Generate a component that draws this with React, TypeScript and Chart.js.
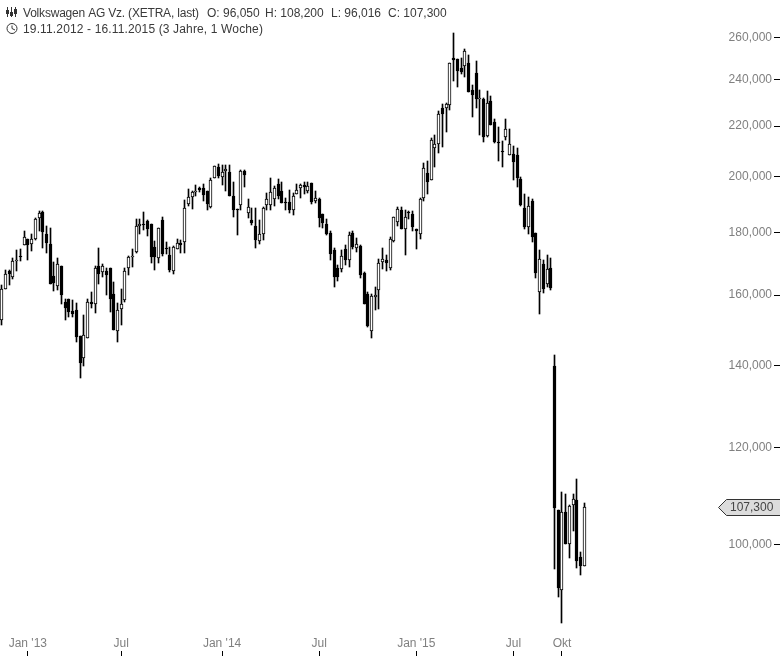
import React, { useEffect, useRef } from "react";
import { Chart, registerables } from "chart.js";

Chart.register(...registerables);

const opens = [
  152.6, 162.0, 167.4, 165.7, 170.8, 172.2, 176.0, 177.7, 176.3, 177.9,
  185.2, 187.1, 179.4, 176.2, 165.9, 162.9, 169.1, 157.8, 158.7, 155.3,
  155.7, 148.1, 142.2, 147.6, 157.8, 157.2, 169.0, 167.0, 167.5, 168.5,
  160.2, 149.6, 156.0, 158.5, 168.4, 172.1, 173.4, 182.3, 183.1, 184.0,
  182.9, 175.1, 171.5, 184.2, 174.8, 172.6, 167.3, 174.5, 176.4, 176.9,
  189.8, 192.4, 194.6, 195.9, 195.9, 194.7, 189.0, 199.4, 203.8, 200.0,
  202.2, 201.9, 192.8, 188.1, 189.6, 202.1, 186.7, 184.2, 182.1, 177.3,
  179.6, 189.5, 189.5, 191.7, 197.2, 194.6, 190.8, 190.8, 188.0, 193.7,
  195.9, 196.9, 194.8, 197.6, 191.2, 191.7, 186.5, 183.1, 180.0, 174.2,
  168.5, 168.0, 174.4, 170.9, 180.0, 174.7, 175.5, 166.9, 160.4, 149.6,
  159.4, 161.7, 170.2, 171.0, 168.3, 177.3, 183.8, 187.8, 181.3, 187.2,
  186.3, 181.1, 179.6, 192.1, 201.5, 198.9, 211.0, 212.6, 227.5, 227.5,
  228.8, 250.0, 249.5, 245.4, 246.5, 247.6, 235.7, 243.4, 232.0, 231.4,
  216.0, 230.5, 221.8, 213.4, 209.9, 215.4, 208.2, 208.6, 208.2, 199.2,
  188.6, 182.0, 191.0, 179.9, 160.9, 169.7, 163.5, 168.4, 139.9, 106.8,
  91.75, 106.4, 100.1, 107.8, 108.8, 97.7, 96.05,
];
const highs = [
  163.1, 167.9, 167.9, 171.7, 174.3, 174.6, 180.4, 177.7, 179.4, 184.9,
  187.5, 187.4, 182.2, 181.7, 170.4, 171.7, 169.1, 158.9, 158.9, 158.5,
  157.5, 148.1, 154.0, 158.7, 160.8, 169.1, 174.9, 169.7, 168.5, 168.5,
  164.0, 157.5, 161.8, 168.5, 172.3, 174.6, 184.6, 184.7, 187.2, 184.3,
  182.9, 177.2, 181.7, 185.3, 176.7, 175.1, 175.4, 177.8, 177.5, 191.4,
  195.3, 194.8, 196.9, 196.3, 197.2, 194.7, 199.4, 203.9, 204.8, 204.3,
  204.4, 204.4, 197.9, 188.1, 202.5, 202.7, 191.7, 188.6, 188.5, 184.4,
  189.0, 194.1, 199.7, 196.5, 199.3, 197.9, 192.3, 195.1, 194.0, 197.2,
  197.2, 198.0, 197.9, 197.6, 194.6, 192.1, 186.5, 184.6, 180.4, 174.7,
  169.5, 174.1, 175.9, 180.2, 180.4, 178.3, 175.7, 167.2, 160.8, 160.4,
  162.6, 171.4, 174.8, 172.7, 178.6, 185.3, 189.0, 189.0, 187.8, 187.5,
  187.5, 181.1, 192.1, 205.1, 206.0, 215.0, 216.3, 226.3, 229.5, 229.8,
  247.6, 262.2, 249.5, 250.3, 254.4, 251.5, 237.6, 248.7, 235.4, 231.8,
  235.0, 232.8, 222.8, 219.7, 213.9, 222.8, 218.7, 211.9, 211.0, 200.0,
  193.6, 192.6, 191.7, 179.9, 174.2, 171.0, 172.7, 171.7, 143.0, 106.8,
  110.5, 109.9, 107.8, 110.0, 113.2, 98.5, 108.2,
];
const lows = [
  151.2, 162.0, 163.2, 165.0, 167.4, 170.5, 175.7, 170.9, 173.9, 177.5,
  180.7, 175.0, 173.2, 163.5, 161.1, 161.5, 157.3, 152.8, 153.5, 153.5,
  146.4, 136.8, 140.0, 147.6, 156.3, 154.8, 163.4, 165.6, 160.0, 155.1,
  149.8, 146.4, 151.2, 157.8, 166.1, 168.6, 173.1, 179.5, 181.0, 178.9,
  169.9, 167.7, 170.1, 172.1, 172.8, 167.0, 166.6, 174.4, 173.2, 173.2,
  189.3, 188.1, 192.7, 194.5, 190.9, 188.0, 188.7, 199.4, 199.4, 196.9,
  194.7, 193.0, 185.5, 179.2, 188.0, 196.3, 185.0, 182.7, 175.0, 176.3,
  177.6, 187.7, 187.7, 189.1, 191.7, 190.5, 187.7, 186.7, 186.2, 193.7,
  192.0, 193.7, 194.1, 190.1, 190.5, 182.0, 181.7, 179.2, 170.9, 162.5,
  164.4, 167.0, 169.3, 168.6, 174.4, 173.7, 165.2, 157.4, 150.7, 147.6,
  155.6, 156.0, 168.2, 167.3, 167.7, 176.9, 182.2, 181.2, 172.5, 184.7,
  180.5, 174.4, 177.9, 190.9, 193.7, 198.6, 203.8, 209.2, 211.7, 217.6,
  226.9, 239.5, 236.7, 242.9, 241.3, 234.7, 223.9, 227.8, 216.4, 213.6,
  215.6, 220.4, 213.3, 206.0, 203.8, 214.4, 208.2, 198.8, 196.1, 189.1,
  181.2, 179.5, 176.9, 165.1, 154.3, 160.5, 162.5, 161.6, 95.45, 90.5,
  86.2, 100.0, 97.4, 102.5, 95.6, 94.4, 96.016,
];
const closes = [
  162.0, 166.5, 166.4, 170.6, 171.0, 171.8, 178.6, 176.0, 177.7, 184.7,
  186.7, 180.1, 176.6, 163.5, 163.8, 169.7, 160.0, 156.3, 154.9, 154.3,
  147.9, 140.8, 148.3, 157.8, 157.4, 168.5, 166.4, 169.1, 166.1, 158.9,
  149.8, 155.6, 157.2, 167.5, 172.0, 172.4, 182.4, 183.0, 182.6, 181.2,
  172.0, 171.9, 181.7, 173.0, 174.4, 167.9, 175.1, 176.4, 175.9, 188.5,
  192.4, 194.5, 194.8, 195.1, 193.4, 189.8, 198.9, 203.9, 200.2, 201.9,
  203.1, 193.0, 188.0, 187.7, 202.1, 200.6, 188.9, 183.4, 177.6, 179.6,
  188.6, 191.7, 194.2, 195.8, 193.0, 190.5, 190.2, 188.0, 192.8, 194.9,
  196.9, 196.3, 196.7, 190.8, 192.1, 185.2, 183.4, 179.5, 172.8, 165.4,
  165.4, 172.2, 170.9, 179.3, 175.3, 176.1, 166.1, 157.4, 151.0, 159.8,
  160.1, 170.0, 171.3, 169.9, 177.7, 185.3, 188.1, 181.2, 185.3, 186.7,
  181.9, 180.5, 191.9, 203.5, 198.0, 214.2, 212.6, 224.9, 225.3, 229.5,
  247.6, 249.3, 244.2, 243.8, 253.3, 234.7, 233.1, 231.4, 232.2, 215.6,
  229.7, 220.4, 213.5, 213.3, 209.7, 218.9, 212.6, 205.7, 199.5, 189.7,
  181.9, 189.2, 178.5, 166.8, 171.3, 161.9, 168.1, 162.2, 107.1, 92.1,
  106.4, 100.1, 107.6, 109.0, 96.98, 96.0, 107.3,
];

const xTickWeeks = [7, 32, 59, 85, 111, 137, 150];
const xTickLabels = ["Jan '13", "Jul", "Jan '14", "Jul", "Jan '15", "Jul", "Okt"];
const yTickValues = [100, 120, 140, 160, 180, 200, 220, 240, 260];

const headerName = "Volkswagen AG Vz. (XETRA, last)";
const headerOhlc = ["O: 96,050", "H: 108,200", "L: 96,016", "C: 107,300"];
const headerRange = "19.11.2012 - 16.11.2015 (3 Jahre, 1 Woche)";
const lastPrice = "107,300";

const FONT = "'Liberation Sans', Arial, sans-serif";
const fmt = (v: number) => v.toFixed(3).replace(".", ",");

const snapBars = {
  id: "snapBars",
  afterDatasetsUpdate(chart: any) {
    chart.getSortedVisibleDatasetMetas().forEach((meta: any) => {
      meta.data.forEach((el: any) => {
        el.x = Math.floor(el.x) + 0.5;
        let top = Math.round(Math.min(el.y, el.base));
        let bot = Math.round(Math.max(el.y, el.base));
        if (bot === top) bot = top + 1;
        el.y = top;
        el.base = bot;
        el.height = bot - top;
      });
    });
  },
};

const decorations = {
  id: "decorations",
  afterDraw(chart: any) {
    const ctx = chart.ctx;
    ctx.save();
    // header text
    ctx.font = `12px ${FONT}`;
    ctx.textBaseline = "alphabetic";
    ctx.textAlign = "left";
    ctx.fillStyle = "#3a3a3a";
    ctx.letterSpacing = "-0.2px";
    ctx.fillText(headerName, 23, 17);
    ctx.letterSpacing = "0px";
    [207, 265, 331, 388].forEach((x, i) => ctx.fillText(headerOhlc[i], x, 17));
    ctx.letterSpacing = "0.14px";
    ctx.fillText(headerRange, 23, 33);
    ctx.letterSpacing = "0px";

    // header icons
    ctx.strokeStyle = "#333";
    ctx.lineWidth = 1;
    ctx.beginPath();
    [7.5, 11.5, 15.5].forEach((x) => {
      ctx.moveTo(x, 7);
      ctx.lineTo(x, 17);
    });
    ctx.stroke();
    ctx.fillStyle = "#333";
    ctx.fillRect(6, 10, 3, 4);
    ctx.fillRect(10, 12, 3, 4);
    ctx.fillRect(14, 9, 3, 5);
    ctx.beginPath();
    ctx.arc(12, 28.5, 5, 0, Math.PI * 2);
    ctx.moveTo(12, 25.5);
    ctx.lineTo(12, 28.5);
    ctx.lineTo(15, 30);
    ctx.stroke();

    // last price tag
    const y = Math.round(chart.scales.y.getPixelForValue(closes[closes.length - 1])) + 0.5;
    ctx.beginPath();
    ctx.moveTo(718.5, y);
    ctx.lineTo(726.5, y - 8);
    ctx.lineTo(781, y - 8);
    ctx.lineTo(781, y + 8);
    ctx.lineTo(726.5, y + 8);
    ctx.closePath();
    ctx.fillStyle = "#dcdcdc";
    ctx.fill();
    ctx.strokeStyle = "#333";
    ctx.stroke();
    ctx.fillStyle = "#444";
    ctx.textBaseline = "middle";
    ctx.textAlign = "left";
    ctx.fillText(lastPrice, 730, y + 0.5);
    ctx.restore();
  },
};

export default function App() {
  const ref = useRef<HTMLCanvasElement>(null);
  useEffect(() => {
    document.body.style.margin = "0";
    const bodies = closes.map((c, i) => ({ x: i, y: [opens[i], c] }));
    const wicks = highs.map((h, i) => ({ x: i, y: [lows[i], h] }));
    const chart = new Chart(ref.current as HTMLCanvasElement, {
      type: "bar",
      data: {
        datasets: [
          {
            data: bodies,
            grouped: false,
            barThickness: 3,
            borderWidth: 1,
            borderSkipped: false,
            borderColor: "#000",
            backgroundColor: closes.map((c, i) => (c >= opens[i] ? "#fff" : "#000")),
          },
          {
            data: wicks,
            grouped: false,
            barThickness: 1,
            borderWidth: 0,
            backgroundColor: "#000",
          },
        ],
      } as any,
      options: {
        animation: false,
        responsive: false,
        devicePixelRatio: 1,
        layout: { padding: 0 },
        plugins: { legend: { display: false }, tooltip: { enabled: false }, title: { display: false } },
        scales: {
          x: {
            type: "linear",
            offset: false,
            min: -0.455,
            max: 206.77,
            grid: { offset: false, drawOnChartArea: false, drawTicks: true, tickLength: 5, color: "#000" },
            border: { display: false },
            afterBuildTicks: (s: any) => {
              s.ticks = xTickWeeks.map((value) => ({ value }));
            },
            afterFit: (s: any) => {
              s.height = 5;
              s.paddingLeft = 0;
              s.paddingRight = 0;
            },
            ticks: {
              mirror: true,
              padding: 0,
              autoSkip: false,
              maxRotation: 0,
              color: "#808080",
              font: { family: FONT, size: 12 },
              callback: (v: any) => xTickLabels[xTickWeeks.indexOf(Number(v))] ?? "",
            },
          },
          y: {
            type: "logarithmic",
            position: "right",
            min: 81.81,
            max: 279.05,
            grid: { drawOnChartArea: false, drawTicks: true, tickLength: 6, color: "#000" },
            border: { display: false },
            afterBuildTicks: (s: any) => {
              s.ticks = yTickValues.map((value) => ({ value }));
            },
            afterFit: (s: any) => {
              s.width = 6;
              s.paddingTop = 0;
              s.paddingBottom = 0;
            },
            ticks: {
              mirror: true,
              padding: -2,
              autoSkip: false,
              color: "#808080",
              font: { family: FONT, size: 12 },
              callback: (v: any) => fmt(Number(v)),
            },
          },
        },
      } as any,
      plugins: [snapBars, decorations],
    });
    return () => chart.destroy();
  }, []);
  return <canvas ref={ref} width={780} height={656} style={{ display: "block" }} />;
}
